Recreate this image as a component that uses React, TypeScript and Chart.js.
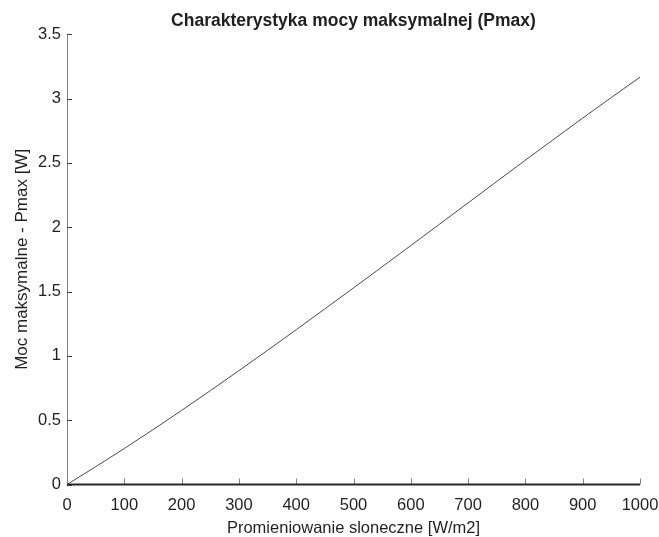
import React, { useEffect, useRef } from "react";
import { Chart, registerables } from "chart.js";

Chart.register(...registerables);

const irradiance = [0, 50, 100, 150, 200, 250, 300, 350, 400, 450, 500, 550, 600, 650, 700, 750, 800, 850, 900, 950, 1000];
const pmax = [0, 0.138, 0.28, 0.426, 0.576, 0.729, 0.885, 1.043, 1.203, 1.365, 1.528, 1.692, 1.857, 2.023, 2.189, 2.355, 2.521, 2.685, 2.848, 3.008, 3.166];
const xTicks = [0, 100, 200, 300, 400, 500, 600, 700, 800, 900, 1000];
const yTicks = [0, 0.5, 1, 1.5, 2, 2.5, 3, 3.5];

const titleText = "Charakterystyka mocy maksymalnej (Pmax)";
const xTitle = "Promieniowanie sloneczne [W/m2]";
const yTitle = "Moc maksymalne - Pmax [W]";

const FONT = '"Liberation Sans", Arial, Helvetica, sans-serif';
const TEXT = "#1f1f1f";

const axesPlugin = {
  id: "matlabAxes",
  afterDatasetsDraw(chart: any) {
    const { ctx, chartArea, scales } = chart;
    const xs = scales.x;
    const ys = scales.y;
    ctx.save();
    ctx.strokeStyle = "#808080";
    ctx.lineWidth = 1;
    ctx.beginPath();
    ctx.moveTo(Math.round(chartArea.left) + 0.5, chartArea.top);
    ctx.lineTo(Math.round(chartArea.left) + 0.5, chartArea.bottom);
    ctx.stroke();
    ctx.strokeStyle = "#404040";
    ctx.beginPath();
    for (const v of yTicks) {
      const y = Math.round(ys.getPixelForValue(v)) + 0.5;
      ctx.moveTo(chartArea.left, y);
      ctx.lineTo(chartArea.left + 5, y);
    }
    ctx.stroke();
    ctx.strokeStyle = "#808080";
    ctx.beginPath();
    for (const v of xTicks) {
      const x = Math.round(xs.getPixelForValue(v)) + 0.5;
      ctx.moveTo(x, chartArea.bottom);
      ctx.lineTo(x, chartArea.bottom - 6);
    }
    ctx.stroke();
    ctx.strokeStyle = "#262626";
    ctx.lineWidth = 2;
    ctx.beginPath();
    ctx.moveTo(chartArea.left, chartArea.bottom);
    ctx.lineTo(chartArea.right, chartArea.bottom);
    ctx.stroke();
    ctx.restore();
  },
};

export default function App() {
  const ref = useRef<HTMLCanvasElement | null>(null);
  useEffect(() => {
    document.body.style.margin = "0";
    const canvas = ref.current;
    if (!canvas) return;
    const chart = new Chart(canvas, {
      type: "line",
      data: {
        datasets: [
          {
            data: irradiance.map((x, i) => ({ x, y: pmax[i] })),
            borderColor: "#4a4a4a",
            borderWidth: 1,
            pointRadius: 0,
            fill: false,
            tension: 0,
          },
        ],
      },
      options: {
        animation: false,
        responsive: false,
        devicePixelRatio: 1,
        layout: { padding: { left: 0, right: 19, top: 0, bottom: 0 } },
        plugins: {
          legend: { display: false },
          tooltip: { enabled: false },
          title: {
            display: true,
            fullSize: false,
            text: titleText,
            color: TEXT,
            font: { family: FONT, size: 17.5, weight: "bold" },
            padding: { top: 10.5, bottom: 2.7 },
          },
        },
        scales: {
          x: {
            type: "linear",
            min: 0,
            max: 1000,
            grid: { display: false, drawTicks: false },
            border: { display: false },
            afterBuildTicks: (s: any) => {
              s.ticks = xTicks.map((v) => ({ value: v }));
            },
            ticks: {
              color: TEXT,
              font: { family: FONT, size: 16.5 },
              padding: 11,
              maxRotation: 0,
              callback: (v: any) => String(v),
            },
            title: {
              display: true,
              text: xTitle,
              color: TEXT,
              font: { family: FONT, size: 16.5 },
              padding: { top: 0, bottom: -1 },
            },
            afterFit: (s: any) => {
              s.height = 52.5;
              s.paddingLeft = 0;
              s.paddingRight = 0;
            },
          },
          y: {
            type: "linear",
            min: 0,
            max: 3.5,
            grid: { display: false, drawTicks: false },
            border: { display: false },
            afterBuildTicks: (s: any) => {
              s.ticks = yTicks.map((v) => ({ value: v }));
            },
            ticks: {
              color: TEXT,
              font: { family: FONT, size: 16.5 },
              padding: 6,
              callback: (v: any) => String(v),
            },
            title: {
              display: true,
              text: yTitle,
              color: TEXT,
              font: { family: FONT, size: 17 },
              padding: { top: 12, bottom: 0 },
            },
            afterFit: (s: any) => {
              s.width = 67;
            },
          },
        },
      },
      plugins: [axesPlugin],
    });
    return () => chart.destroy();
  }, []);
  return (
    <div style={{ width: 659, height: 537, background: "#fff" }}>
      <canvas ref={ref} width={659} height={537} style={{ display: "block" }} />
    </div>
  );
}
